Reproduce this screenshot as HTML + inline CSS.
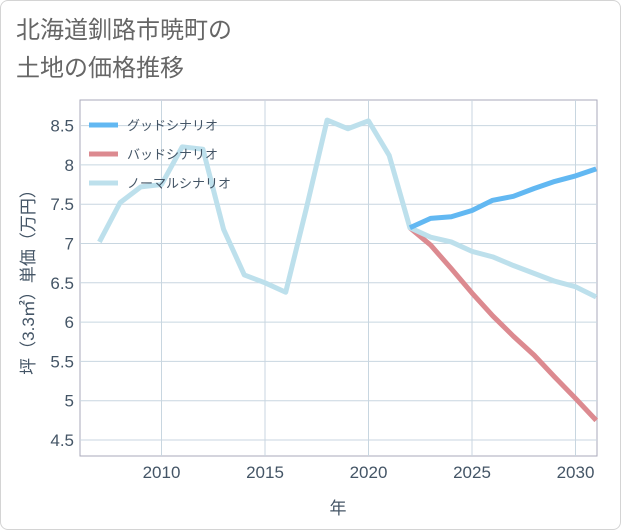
<!DOCTYPE html>
<html><head><meta charset="utf-8"><style>
body{margin:0;background:#fff;font-family:"Liberation Sans","Noto Sans CJK JP",sans-serif;}
#frame{position:absolute;left:0;top:0;width:619px;height:528px;border:1px solid #d4d4d4;border-radius:8px;}
#title{position:absolute;left:16px;top:12px;font-size:24px;line-height:38px;color:#666;}
</style></head><body>
<div id="frame"></div>
<div id="title">北海道釧路市暁町の<br>土地の価格推移</div>
<svg id="chart" width="621" height="530" style="position:absolute;left:0;top:0"></svg>
<script>
const years=[2007,2008,2009,2010,2011,2012,2013,2014,2015,2016,2017,2018,2019,2020,2021,2022,2023,2024,2025,2026,2027,2028,2029,2030,2031];
const normalValues=[7.02,7.52,7.72,7.75,8.23,8.2,7.18,6.6,6.5,6.38,7.45,8.57,8.46,8.56,8.12,7.2,7.08,7.02,6.9,6.83,6.72,6.62,6.52,6.45,6.32];
const futureYears=[2022,2023,2024,2025,2026,2027,2028,2029,2030,2031];
const goodValues=[7.2,7.32,7.34,7.42,7.55,7.6,7.7,7.79,7.86,7.95];
const badValues=[7.2,6.98,6.68,6.37,6.08,5.82,5.58,5.3,5.03,4.75];
const yTicks=[4.5,5,5.5,6,6.5,7,7.5,8,8.5];
const xTicks=[2010,2015,2020,2025,2030];
const L=80,R=597,T=100,B=456;
const x=v=>161.5+(v-2010)*20.7;
const y=v=>440-(v-4.5)*78.6;
const svg=document.getElementById('chart');
const NS='http://www.w3.org/2000/svg';
function mk(t,a){const e=document.createElementNS(NS,t);for(const k in a)e.setAttribute(k,a[k]);svg.appendChild(e);return e;}
const bg=mk('rect',{x:L,y:T,width:R-L,height:B-T,fill:'none',stroke:'#aab','stroke-width':1});


yTicks.forEach(v=>{
 const g=mk('line',{x1:L,x2:R,y1:y(v),y2:y(v),stroke:'#c8d6e0','stroke-width':1});
 
 
 const t=mk('text',{x:L-6,y:y(v)+6,'text-anchor':'end','font-size':17,fill:'#456'});
 t.textContent=String(v);
 
 
});
xTicks.forEach(v=>{
 const g=mk('line',{x1:x(v),x2:x(v),y1:T,y2:B,stroke:'#c8d6e0','stroke-width':1});
 
 
 const t=mk('text',{x:x(v),y:B+22,'text-anchor':'middle','font-size':17,fill:'#456'});
 t.textContent=String(v);
 
 
});
function line(xs,vs,c,n){
 const p=mk('polyline',{points:xs.map((d,i)=>x(d)+','+y(vs[i])).join(' '),fill:'none',stroke:c,'stroke-width':5,'stroke-linejoin':'round'});
 
 
}
line(futureYears,badValues,'#dc8a90','bad-scenario-line');
line(years,normalValues,'#bde0ec','normal-scenario-line');
line(futureYears,goodValues,'#62b8f2','good-scenario-line');
const legend=[['グッドシナリオ','#62b8f2'],['バッドシナリオ','#dc8a90'],['ノーマルシナリオ','#bde0ec']];
legend.forEach((d,i)=>{
 const yy=125+i*29;
 const l=mk('line',{x1:89,x2:118,y1:yy,y2:yy,stroke:d[1],'stroke-width':5});
 
 
 const t=mk('text',{x:127,y:yy+5,'font-size':13,fill:'#456'});
 t.textContent=d[0];
 
 
});
const yt=mk('text',{x:0,y:0,transform:'translate(34,278) rotate(-90)','text-anchor':'middle','font-size':17,fill:'#456'});
yt.textContent='坪（3.3㎡）単価（万円）';


const xt=mk('text',{x:338,y:514,'text-anchor':'middle','font-size':17,fill:'#456'});
xt.textContent='年';


</script>
</body></html>
